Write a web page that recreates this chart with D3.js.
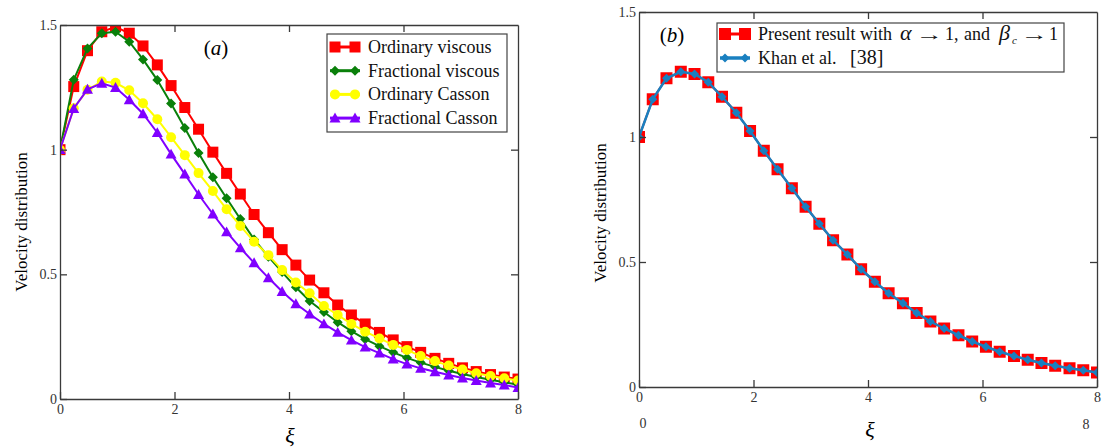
<!DOCTYPE html>
<html>
<head>
<meta charset="utf-8">
<script src="https://cdn.jsdelivr.net/npm/d3@7"></script>
<style>
body { margin: 0; background: white; }
text { font-family: "Liberation Serif", "Times New Roman", serif; }
</style>
</head>
<body>
<div id="chart"></div>
<script>
// shared abscissa (xi), 34 samples on [0, 8]
var xi = [0, 0.24, 0.48, 0.73, 0.97, 1.21, 1.45, 1.70, 1.94, 2.18, 2.42, 2.67, 2.91, 3.15, 3.39, 3.64, 3.88,
          4.12, 4.36, 4.61, 4.85, 5.09, 5.33, 5.58, 5.82, 6.06, 6.30, 6.55, 6.79, 7.03, 7.27, 7.52, 7.76, 8.00];

// panel (a)
var ordinaryViscous = [1.000, 1.253, 1.397, 1.473, 1.493, 1.467, 1.416, 1.340, 1.257, 1.169, 1.082, 0.990, 0.905, 0.822, 0.740, 0.667, 0.599,
                       0.537, 0.477, 0.426, 0.377, 0.337, 0.301, 0.267, 0.237, 0.210, 0.187, 0.163, 0.143, 0.125, 0.110, 0.098, 0.088, 0.080];
var fractionalViscous = [1.000, 1.280, 1.406, 1.467, 1.473, 1.433, 1.362, 1.279, 1.185, 1.087, 0.987, 0.889, 0.805, 0.722, 0.640, 0.571, 0.509,
                         0.448, 0.393, 0.349, 0.308, 0.272, 0.240, 0.212, 0.187, 0.165, 0.146, 0.129, 0.113, 0.100, 0.088, 0.077, 0.067, 0.058];
var ordinaryCasson = [1.000, 1.166, 1.240, 1.273, 1.268, 1.238, 1.186, 1.122, 1.050, 0.978, 0.906, 0.834, 0.761, 0.694, 0.631, 0.577, 0.517,
                      0.467, 0.424, 0.373, 0.337, 0.301, 0.270, 0.243, 0.217, 0.197, 0.172, 0.152, 0.134, 0.118, 0.103, 0.092, 0.083, 0.074];
var fractionalCasson = [1.000, 1.165, 1.242, 1.266, 1.249, 1.200, 1.144, 1.068, 0.982, 0.902, 0.820, 0.742, 0.670, 0.606, 0.546, 0.486, 0.431,
                        0.382, 0.341, 0.301, 0.267, 0.236, 0.208, 0.184, 0.160, 0.140, 0.123, 0.109, 0.096, 0.084, 0.074, 0.064, 0.056, 0.046];

// panel (b)
var presentResult = [1.000, 1.151, 1.235, 1.261, 1.252, 1.219, 1.161, 1.097, 1.024, 0.945, 0.871, 0.795, 0.721, 0.653, 0.587, 0.530, 0.471,
                     0.421, 0.375, 0.335, 0.296, 0.262, 0.234, 0.207, 0.182, 0.161, 0.141, 0.124, 0.109, 0.096, 0.085, 0.075, 0.067, 0.058];
var khanResult = [1.000, 1.151, 1.235, 1.261, 1.252, 1.219, 1.161, 1.097, 1.024, 0.945, 0.871, 0.795, 0.721, 0.653, 0.587, 0.530, 0.471,
                  0.421, 0.375, 0.335, 0.296, 0.262, 0.234, 0.207, 0.182, 0.161, 0.141, 0.124, 0.109, 0.096, 0.085, 0.075, 0.067, 0.058];

var xTicks = [0, 2, 4, 6, 8];
var yTicks = [0, 0.5, 1, 1.5];
var yTickLabels = ["0", "0.5", "1", "1.5"];

var svg = d3.select("#chart")
            .append("svg")
            .attr("width", 1104)
            .attr("height", 448)
            .style("background-color", "white");

function markerPath(shape, s) {
  if (shape == "square") return "M" + (-s) + "," + (-s) + "H" + s + "V" + s + "H" + (-s) + "Z";
  if (shape == "diamond") return "M0," + (-s) + "L" + s + ",0L0," + s + "L" + (-s) + ",0Z";
  if (shape == "triangle") return "M0," + (-s) + "L" + s + "," + (s * 0.8) + "L" + (-s) + "," + (s * 0.8) + "Z";
  return d3.symbol(d3.symbolCircle, Math.PI * s * s)();
}

function drawPanel(p) {
  var x = d3.scaleLinear().domain([0, 8]).range([p.left, p.right]);
  var y = d3.scaleLinear().domain([0, 1.5]).range([p.bottom, p.top]);

  var clipId = "clip" + p.name;
  svg.append("clipPath").attr("id", clipId)
     .append("rect")
     .attr("x", p.left).attr("y", p.top)
     .attr("width", p.right - p.left).attr("height", p.bottom - p.top);

  var plot = svg.append("g").attr("clip-path", "url(#" + clipId + ")");

  p.series.forEach(function(s) {
    var pts = xi.map(function(v, i) { return [v, s.values[i]]; });
    plot.append("path")
        .datum(pts)
        .attr("fill", "none")
        .attr("stroke", s.color)
        .attr("stroke-width", s.lineWidth)
        .attr("d", d3.line().x(function(d) { return x(d[0]); }).y(function(d) { return y(d[1]); }));
    plot.selectAll(null)
        .data(pts)
        .enter()
        .append("path")
        .attr("transform", function(d) { return "translate(" + x(d[0]) + "," + y(d[1]) + ")"; })
        .attr("d", markerPath(s.shape, s.size))
        .attr("fill", s.color);
  });

  // axes, ticks inward on all sides
  svg.append("g")
     .attr("transform", "translate(0," + p.bottom + ")")
     .call(d3.axisBottom(x).tickValues(xTicks).tickSize(-7).tickSizeOuter(0).tickPadding(5).tickFormat(d3.format("d")));
  svg.append("g")
     .attr("transform", "translate(" + p.left + ",0)")
     .call(d3.axisLeft(y).tickValues(yTicks).tickSize(-7).tickSizeOuter(0).tickPadding(3)
           .tickFormat(function(d, i) { return yTickLabels[i]; }));
  svg.append("g")
     .attr("transform", "translate(0," + p.top + ")")
     .call(d3.axisTop(x).tickValues([2, 4, 6]).tickSize(-7).tickSizeOuter(0).tickFormat(""));
  svg.append("g")
     .attr("transform", "translate(" + p.right + ",0)")
     .call(d3.axisRight(y).tickValues([0.5, 1]).tickSize(-7).tickSizeOuter(0).tickFormat(""));

  svg.selectAll(".domain").attr("stroke", "#3a3a3a").attr("stroke-width", 1.3);
  svg.selectAll(".tick line").attr("stroke", "#3a3a3a").attr("stroke-width", 1.3);
  svg.selectAll(".tick text")
     .attr("font-size", 14)
     .attr("fill", "#333");

  svg.append("text")
     .attr("transform", "translate(" + p.ylabelX + "," + p.ylabelY + ") rotate(-90)")
     .attr("text-anchor", "middle")
     .attr("font-size", 17)
     .text("Velocity distribution");

  svg.append("text")
     .attr("x", p.xlabelX)
     .attr("y", p.xlabelY)
     .attr("text-anchor", "middle")
     .attr("font-size", 22)
     .attr("font-style", "italic")
     .text("\u03BE");

  var tag = svg.append("text")
     .attr("x", p.tagX)
     .attr("y", p.tagY)
     .attr("text-anchor", "middle")
     .attr("font-size", 21);
  tag.append("tspan").text("(");
  tag.append("tspan").attr("font-style", "italic").text(p.tag);
  tag.append("tspan").text(")");

  // legend
  var lg = svg.append("g");
  lg.append("rect")
    .attr("x", p.legend.x).attr("y", p.legend.y)
    .attr("width", p.legend.w).attr("height", p.legend.h)
    .attr("fill", "white").attr("stroke", "#444").attr("stroke-width", 1.2);
  p.series.forEach(function(s, i) {
    var ly = p.legend.y + p.legend.first + i * p.legend.step;
    var lx = p.legend.x + 3;
    lg.append("line")
      .attr("x1", lx).attr("x2", lx + 30).attr("y1", ly).attr("y2", ly)
      .attr("stroke", s.color).attr("stroke-width", s.lineWidth + 1);
    [lx + 5, lx + 25].forEach(function(mx) {
      lg.append("path")
        .attr("transform", "translate(" + mx + "," + ly + ")")
        .attr("d", markerPath(s.shape, s.size))
        .attr("fill", s.color);
    });
    s.label(lg, lx + 38, ly + 6);
  });
}

function simpleLabel(str) {
  return function(g, tx, ty) {
    g.append("text").attr("x", tx).attr("y", ty).attr("font-size", 18).attr("fill", "#111").text(str);
  };
}

function arrow(g, ax, ay) {
  g.append("text")
   .attr("transform", "translate(" + ax + "," + ay + ") scale(1.7,1)")
   .attr("font-family", "DejaVu Serif")
   .attr("font-size", 16)
   .attr("fill", "#111")
   .text("\u2192");
}

drawPanel({
  name: "a", left: 60, right: 518, top: 25, bottom: 399,
  ylabelX: 27, ylabelY: 222, xlabelX: 290, xlabelY: 443,
  tag: "a", tagX: 216, tagY: 55,
  legend: { x: 327, y: 34, w: 180, h: 98, first: 13, step: 23.7 },
  series: [
    { values: ordinaryViscous, color: "#ff0000", shape: "square", size: 5.5, lineWidth: 2, label: simpleLabel("Ordinary viscous") },
    { values: fractionalViscous, color: "#0a800a", shape: "diamond", size: 5, lineWidth: 2, label: simpleLabel("Fractional viscous") },
    { values: ordinaryCasson, color: "#ffff00", shape: "circle", size: 5, lineWidth: 2, label: simpleLabel("Ordinary Casson") },
    { values: fractionalCasson, color: "#8000ff", shape: "triangle", size: 5.5, lineWidth: 2, label: simpleLabel("Fractional Casson") }
  ]
});

drawPanel({
  name: "b", left: 639, right: 1097, top: 12, bottom: 387,
  ylabelX: 606, ylabelY: 213, xlabelX: 870, xlabelY: 437,
  tag: "b", tagX: 672, tagY: 42,
  legend: { x: 717, y: 23, w: 347, h: 49, first: 11, step: 24 },
  series: [
    { values: presentResult, color: "#ff0000", shape: "square", size: 6, lineWidth: 2,
      label: function(g, tx, ty) {
        var t = g.append("text").attr("x", tx).attr("y", ty).attr("font-size", 18).attr("fill", "#111");
        t.append("tspan").text("Present result with");
        t.append("tspan").attr("x", 900).attr("font-style", "italic").attr("font-size", 22).text("\u03B1");
        t.append("tspan").attr("x", 945).text("1,");
        t.append("tspan").attr("x", 964).text("and");
        t.append("tspan").attr("x", 999).attr("font-style", "italic").attr("font-size", 22).text("\u03B2");
        t.append("tspan").attr("x", 1012).attr("dy", 4).attr("font-style", "italic").attr("font-size", 11).text("c");
        t.append("tspan").attr("x", 1049).attr("dy", -4).text("1");
        arrow(g, 916, ty);
        arrow(g, 1021, ty);
      } },
    { values: khanResult, color: "#1a80c0", shape: "diamond", size: 4.5, lineWidth: 2.5,
      label: function(g, tx, ty) {
        var t = g.append("text").attr("x", tx).attr("y", ty).attr("font-size", 18).attr("fill", "#111");
        t.append("tspan").text("Khan et al.");
        t.append("tspan").attr("x", 850).attr("font-size", 20).text("[38]");
      } }
  ]
});

// stray axis labels present under panel (b)
svg.append("text").attr("x", 643).attr("y", 428).attr("text-anchor", "middle")
   .attr("font-size", 14).attr("fill", "#333").text("0");
svg.append("text").attr("x", 1086).attr("y", 429).attr("text-anchor", "middle")
   .attr("font-size", 14).attr("fill", "#333").text("8");
</script>
</body>
</html>
